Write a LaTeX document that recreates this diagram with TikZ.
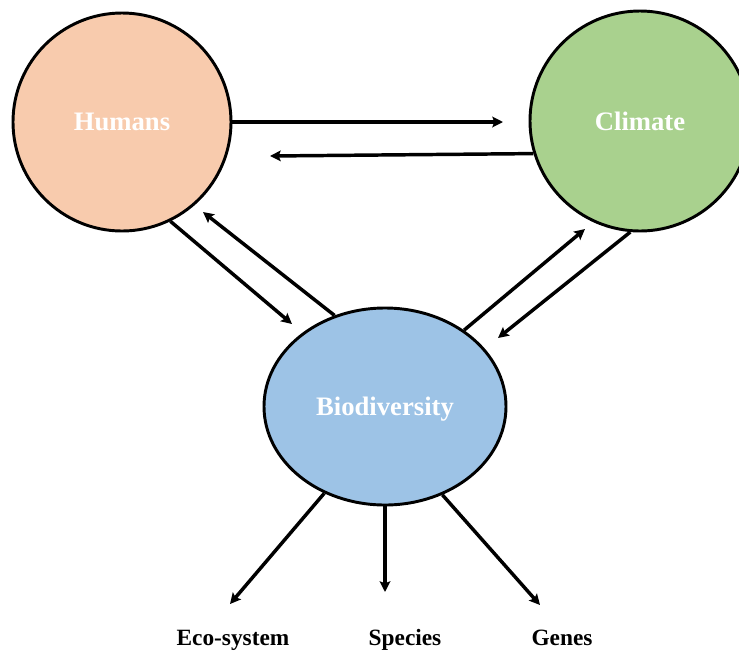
\documentclass[tikz,border=0pt]{standalone}
\usepackage{fontspec}
\setmainfont{Liberation Serif}
\usetikzlibrary{arrows.meta,shapes.geometric}

\definecolor{peach}{HTML}{F8CBAD}
\definecolor{leaf}{HTML}{A9D18E}
\definecolor{sky}{HTML}{9DC3E6}

\tikzset{
  hub/.style={circle, draw=black, line width=2.2pt, inner sep=0pt,
    minimum size=163.5pt, text=white, font=\bfseries\fontsize{20}{24}\selectfont},
  biobox/.style={ellipse, draw=black, line width=2.2pt, inner sep=0pt,
    minimum width=181.5pt, minimum height=147.75pt, text depth=0pt, text=white,
    font=\bfseries\fontsize{20}{24}\selectfont},
  leaflabel/.style={anchor=base, font=\bfseries\fontsize{17.5}{21}\selectfont},
  link/.style={line width=2.6pt, -{Stealth[length=8pt,width=8pt,inset=1.5pt]}}
}

\begin{document}
\begin{tikzpicture}[x=0.75pt, y=-0.75pt]
  \clip (0,0) rectangle (739,651);
  \fill[white] (0,0) rectangle (739,651);

  % the three interacting systems
  \node[hub, fill=peach] (hum) at (122,122) {Humans};
  \node[hub, fill=leaf, minimum size=165pt] (cli) at (640,121) {Climate};
  \node[biobox, fill=sky] (bio) at (385,406.5) {Biodiversity};

  % levels of biodiversity
  \node[leaflabel] (eco) at (233,645) {Eco-system};
  \node[leaflabel] (spe) at (405,645) {Species};
  \node[leaflabel] (gen) at (562,645) {Genes};

  % free arrow tips
  \coordinate (hc) at (503,122);
  \coordinate (ch) at (270,156);
  \coordinate (hb) at (292,324);
  \coordinate (bh) at (203,212);
  \coordinate (bc) at (585,229);
  \coordinate (cb) at (498,338);
  \coordinate (be) at (230,604);
  \coordinate (bs) at (385,592);
  \coordinate (bg) at (540,605);

  % interactions
  \draw[link] (hum.east) -- (hc);
  \draw[link] (cli.197) -- (ch);
  \draw[link] (hum.-64) -- (hb);
  \draw[link] (bio.119.5) -- (bh);
  \draw[link] (bio.44.8) -- (bc);
  \draw[link] (cli.-95) -- (cb);
  \draw[link] (bio.-125) -- (be);
  \draw[link] (bio.south) -- (bs);
  \draw[link] (bio.-57.6) -- (bg);
\end{tikzpicture}
\end{document}
